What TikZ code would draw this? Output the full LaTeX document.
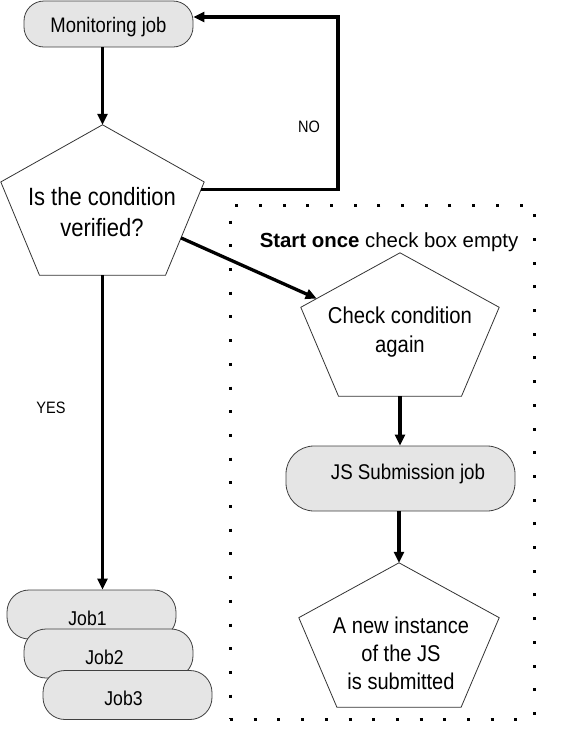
\documentclass[tikz,border=0pt]{standalone}
\usepackage{fontspec}
\setmainfont[FakeStretch=0.88]{Liberation Sans}
\newfontfamily\boxlabelfont{Liberation Sans}
\usepackage{xcolor}
\usepackage{tikz}
\usetikzlibrary{arrows.meta, calc}

% flattened pentagon drawn inside the box of a named node
\newcommand{\pentagon}[1]{%
  \draw[pentline] (#1.north)
    -- ($(#1.north east)!0.38!(#1.south east)$) coordinate (#1-r)
    -- ($(#1.south west)!0.81!(#1.south east)$) coordinate (#1-br)
    -- ($(#1.south west)!0.19!(#1.south east)$) coordinate (#1-bl)
    -- ($(#1.north west)!0.38!(#1.south west)$) coordinate (#1-l)
    -- cycle;}

\begin{document}
\begin{tikzpicture}[
  x=1pt, y=-1pt,
  font=\fontsize{21}{25}\selectfont,
  jobbox/.style={draw=black!75, fill=black!10, line width=0.8pt, inner sep=0pt},
  job/.style={jobbox, rounded corners=22pt, minimum width=169pt, minimum height=49pt, text height=21pt, text depth=0pt, font=\fontsize{20}{24}\selectfont},
  pentbox/.style={inner sep=0pt},
  pentline/.style={draw=black!80, line width=0.8pt, line join=miter},
  pentext/.style={align=center, inner sep=0pt},
  line/.style={-{Triangle[length=11pt, width=10pt]}, line width=3.3pt},
  dotbox/.style={draw, line width=3pt, dash pattern=on 3pt off 20.7pt},
  tag/.style={inner sep=0pt, font=\fontsize{16.5}{20}\selectfont}
]
\useasboundingbox (0,0) rectangle (564,745);

% Left column: monitoring loop
\node[jobbox, rounded corners=20pt, minimum width=169pt, minimum height=46pt, text height=22pt] (mon) at (108.5,24) {Monitoring job};

\node[pentbox, minimum width=203pt, minimum height=150pt] (cond) at (102.5,200) {};
\pentagon{cond}
\node[pentext, font=\fontsize{25}{31}\selectfont] (condtext) at (102,212.4) {Is the condition\\verified?};

% Jobs started on YES
\node[job] (job1) at (91.5,614.5) {\hspace*{-8pt}Job1};
\node[job] (job2) at (108.5,653.5) {\hspace*{-8pt}Job2};
\node[job] (job3) at (127.5,695) {\hspace*{-8pt}Job3};

\node[tag] (yes) at (51,408) {YES};
\node[tag] (no) at (309,127) {NO};

% Right part: started once
\node[dotbox, minimum width=304pt, minimum height=514pt, inner sep=0pt] (once) at (382,462) {};
\node[inner sep=0pt, font=\boxlabelfont\fontsize{20.4}{24}\selectfont] (oncetext) at (389,242.7) {\textbf{Start once} check box empty};

\node[pentbox, minimum width=198pt, minimum height=143pt] (chk) at (400,324.5) {};
\pentagon{chk}
\node[pentext, font=\fontsize{23}{29}\selectfont] (chktext) at (400,332.5) {Check condition\\again};

\node[jobbox, rounded corners=28pt, minimum width=229pt, minimum height=65pt, text depth=12.5pt, font=\fontsize{21.3}{25}\selectfont] (js) at (400.5,478.5) {\hspace*{15pt}JS Submission job};

\node[pentbox, minimum width=200pt, minimum height=144pt] (subm) at (399,635) {};
\pentagon{subm}
\node[pentext, font=\fontsize{22.8}{28}\selectfont] (submtext) at (401,653.7) {A new instance\\of the JS\\is submitted};

% Connections
\draw[line] (mon.south -| cond.north) -- (cond.north);
\coordinate (loop) at (338,17);
\draw[line] ($(cond-r)!0.08!(cond-br)$) -| (loop) -- ($(mon.east)+(0,-7)$);
\draw[line] (cond.south) -- (cond.south |- job1.north);
\draw[line] ($(cond-r)!0.6!(cond-br)$) -- ($(chk-l)!0.16!(chk.north)$);
\draw[line] (chk.south) -- (chk.south |- js.north);
\draw[line] (js.south -| subm.north) -- (subm.north);

\end{tikzpicture}
\end{document}
